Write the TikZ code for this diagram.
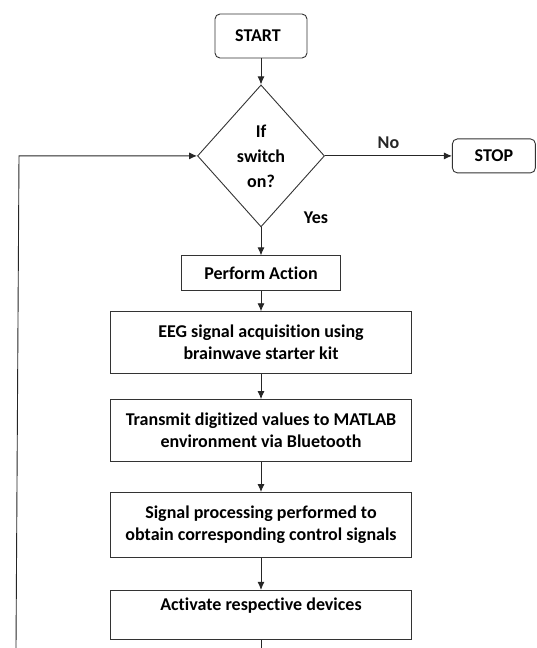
\documentclass[tikz,border=0pt]{standalone}
\usepackage{fontspec}
\setmainfont{Carlito}[Ligatures=NoCommon]
\usetikzlibrary{positioning,shapes.geometric,arrows.meta}

\begin{document}
\begin{tikzpicture}[x=1pt,y=-1pt,font=\bfseries\fontsize{18}{22}\selectfont]
\tikzstyle{term}=[rectangle, rounded corners=5pt, draw=black!80, line width=0.9pt, inner sep=0pt]
\tikzstyle{proc}=[rectangle, draw=black!80, line width=0.9pt, inner sep=0pt, align=center, minimum width=301pt]
\tikzstyle{dec}=[diamond, draw=black!80, line width=0.9pt, inner sep=0pt, align=center, minimum width=127pt, minimum height=142pt, font=\bfseries\fontsize{18}{25}\selectfont]
\tikzstyle{connect}=[-{Latex[length=8pt,width=7pt]}, line width=0.9pt, black!85]
	\useasboundingbox (0,0) rectangle (537,648);
	\node[term, minimum width=92pt, minimum height=44pt] (start) at (261,36) {START\hspace*{6pt}};
	\node[dec] (sw) [below=26pt of start] {If\\switch\\on?};
	\node[term, minimum width=83pt, minimum height=34pt] (stop) [right=127pt of sw] {STOP};
	\node[proc, minimum width=159pt, minimum height=35pt] (act) [below=28pt of sw] {Perform Action};
	\node[proc, minimum height=62pt] (eeg) [below=20pt of act] {EEG signal acquisition using\\brainwave starter kit};
	\node[proc, minimum height=62pt] (tx) [below=25pt of eeg] {Transmit digitized values to MATLAB\\environment via Bluetooth};
	\node[proc, minimum height=65pt] (sp) [below=30pt of tx] {Signal processing performed to\\obtain corresponding control signals};
	\node[proc, text height=20pt, text depth=29pt] (dev) [below=32pt of sp] {Activate respective devices};
	\node (yes) at ([shift={(55,-10)}]sw.south) {Yes};
	\coordinate (out) at (dev.south |- 0,648);
	\coordinate (lb) at (16,648);
	\coordinate (lt) at (19,0 |- sw.west);
	\path (start) edge [connect] (sw);
	\path (sw) edge [connect] node[above=3pt] (no) {No} (stop);
	\path (sw) edge [connect] (act);
	\path (act) edge [connect] (eeg);
	\path (eeg) edge [connect] (tx);
	\path (tx) edge [connect] (sp);
	\path (sp) edge [connect] (dev);
	\draw[line width=0.9pt, black!85] (dev) -- (out);
	\draw[connect] (lb) -- (lt) -- (sw.west);
\end{tikzpicture}
\end{document}
